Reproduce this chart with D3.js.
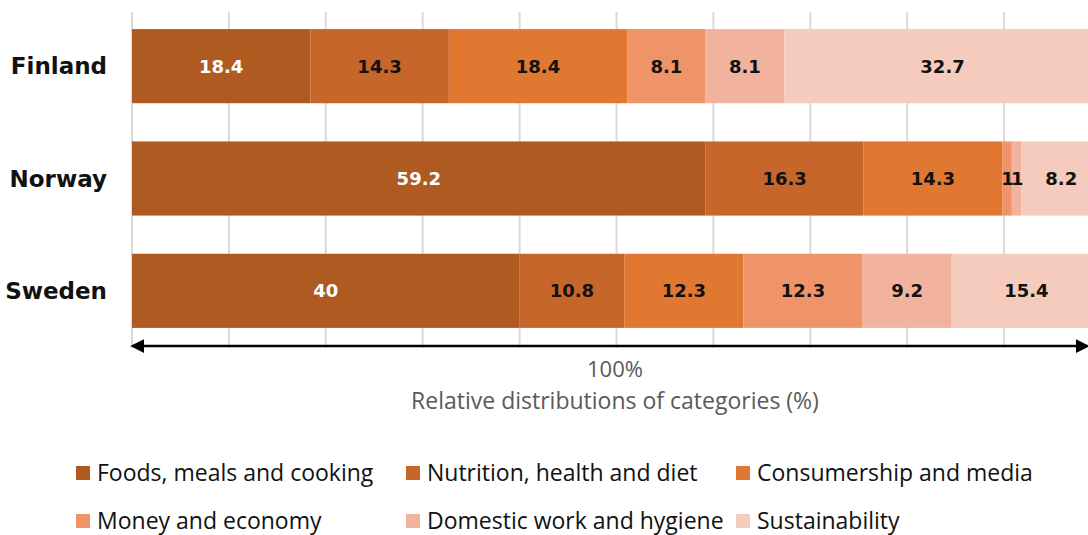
<!DOCTYPE html>
<html>
<head>
<meta charset="utf-8">
<script src="https://cdn.jsdelivr.net/npm/d3@7"></script>
<style>
  body { margin: 0; background: #fff; }
  svg { display: block; }
</style>
</head>
<body>
<svg class="chart"></svg>
<script>
const countries = ['Finland', 'Norway', 'Sweden'];
const categories = [
  'Foods, meals and cooking',
  'Nutrition, health and diet',
  'Consumership and media',
  'Money and economy',
  'Domestic work and hygiene',
  'Sustainability'
];
const finland = [18.4, 14.3, 18.4, 8.1, 8.1, 32.7];
const norway = [59.2, 16.3, 14.3, 1, 1, 8.2];
const sweden = [40, 10.8, 12.3, 12.3, 9.2, 15.4];
const gridTicks = d3.range(0, 101, 10);

const colors = ['#ae5a21', '#c6662b', '#e07832', '#ef9468', '#f2b39e', '#f5cbbd'];

const width = 1088;
const height = 535;
const svg = d3.select('.chart').attr('width', width).attr('height', height);

const x = d3.scaleLinear().domain([0, 100]).range([132, 1101]);
const y = d3.scaleBand().domain(countries).range([10, 347]).paddingInner(0.34).paddingOuter(0.17);

// gridlines
svg.append('g')
  .selectAll('line')
  .data(gridTicks)
  .enter()
  .append('line')
  .attr('x1', d => x(d))
  .attr('x2', d => x(d))
  .attr('y1', 12)
  .attr('y2', 348)
  .attr('stroke', '#d9d9d9')
  .attr('stroke-width', 2);

const rows = [finland, norway, sweden].map((vals, i) => {
  let acc = 0;
  return vals.map((v, j) => {
    const seg = { country: countries[i], k: j, v: v, x0: acc, x1: acc + v };
    acc += v;
    return seg;
  });
});

const segs = rows.flat();

svg.append('g')
  .selectAll('rect')
  .data(segs)
  .enter()
  .append('rect')
  .attr('x', d => x(d.x0))
  .attr('y', d => y(d.country))
  .attr('width', d => x(d.x1) - x(d.x0))
  .attr('height', y.bandwidth())
  .attr('fill', d => colors[d.k]);

svg.append('g')
  .selectAll('text')
  .data(segs)
  .enter()
  .append('text')
  .attr('x', d => (x(d.x0) + x(d.x1)) / 2)
  .attr('y', d => y(d.country) + y.bandwidth() / 2)
  .attr('dy', '0.36em')
  .attr('text-anchor', 'middle')
  .attr('font-family', 'DejaVu Sans, sans-serif')
  .attr('font-weight', 'bold')
  .attr('font-size', '18px')
  .attr('letter-spacing', d => d.v < 2 ? '-1px' : null)
  .attr('fill', d => d.k === 0 ? '#ffffff' : '#111111')
  .text(d => d.v);

// country labels
svg.append('g')
  .selectAll('text')
  .data(countries)
  .enter()
  .append('text')
  .attr('x', 107)
  .attr('y', d => y(d) + y.bandwidth() / 2)
  .attr('dy', '0.36em')
  .attr('text-anchor', 'end')
  .attr('font-family', 'DejaVu Sans, sans-serif')
  .attr('font-weight', 'bold')
  .attr('font-size', '23px')
  .attr('fill', '#111')
  .text(d => d);

// double arrow for 100%
const defs = svg.append('defs');
defs.append('marker')
  .attr('id', 'arr')
  .attr('viewBox', '0 0 10 10')
  .attr('refX', 8)
  .attr('refY', 5)
  .attr('markerWidth', 6)
  .attr('markerHeight', 5.5)
  .attr('markerUnits', 'strokeWidth')
  .attr('orient', 'auto-start-reverse')
  .append('path')
  .attr('d', 'M0,0 L10,5 L0,10 Z')
  .attr('fill', '#000');

svg.append('line')
  .attr('x1', x(0) + 1)
  .attr('x2', 1087)
  .attr('y1', 346)
  .attr('y2', 346)
  .attr('stroke', '#000')
  .attr('stroke-width', 2.5)
  .attr('marker-start', 'url(#arr)')
  .attr('marker-end', 'url(#arr)');

svg.append('text')
  .attr('x', 615)
  .attr('y', 377)
  .attr('text-anchor', 'middle')
  .attr('font-family', 'Open Sans, sans-serif')
  .attr('font-size', '22px')
  .attr('fill', '#595959')
  .text('100%');

svg.append('text')
  .attr('x', 615)
  .attr('y', 409)
  .attr('text-anchor', 'middle')
  .attr('font-family', 'Open Sans, sans-serif')
  .attr('font-size', '23px')
  .attr('fill', '#595959')
  .text('Relative distributions of categories (%)');

// legend
const legendX = [76, 406, 736];
const legend = svg.append('g')
  .selectAll('g')
  .data(categories)
  .enter()
  .append('g')
  .attr('transform', (d, i) => `translate(${legendX[i % 3]}, ${i < 3 ? 473 : 521})`);

legend.append('rect')
  .attr('x', 0)
  .attr('y', -7)
  .attr('width', 14)
  .attr('height', 14)
  .attr('fill', (d, i) => colors[i]);

legend.append('text')
  .attr('x', 21)
  .attr('y', 0)
  .attr('dy', '0.35em')
  .attr('font-family', 'Open Sans, sans-serif')
  .attr('font-size', '23px')
  .attr('fill', '#111')
  .text(d => d);
</script>
</body>
</html>
